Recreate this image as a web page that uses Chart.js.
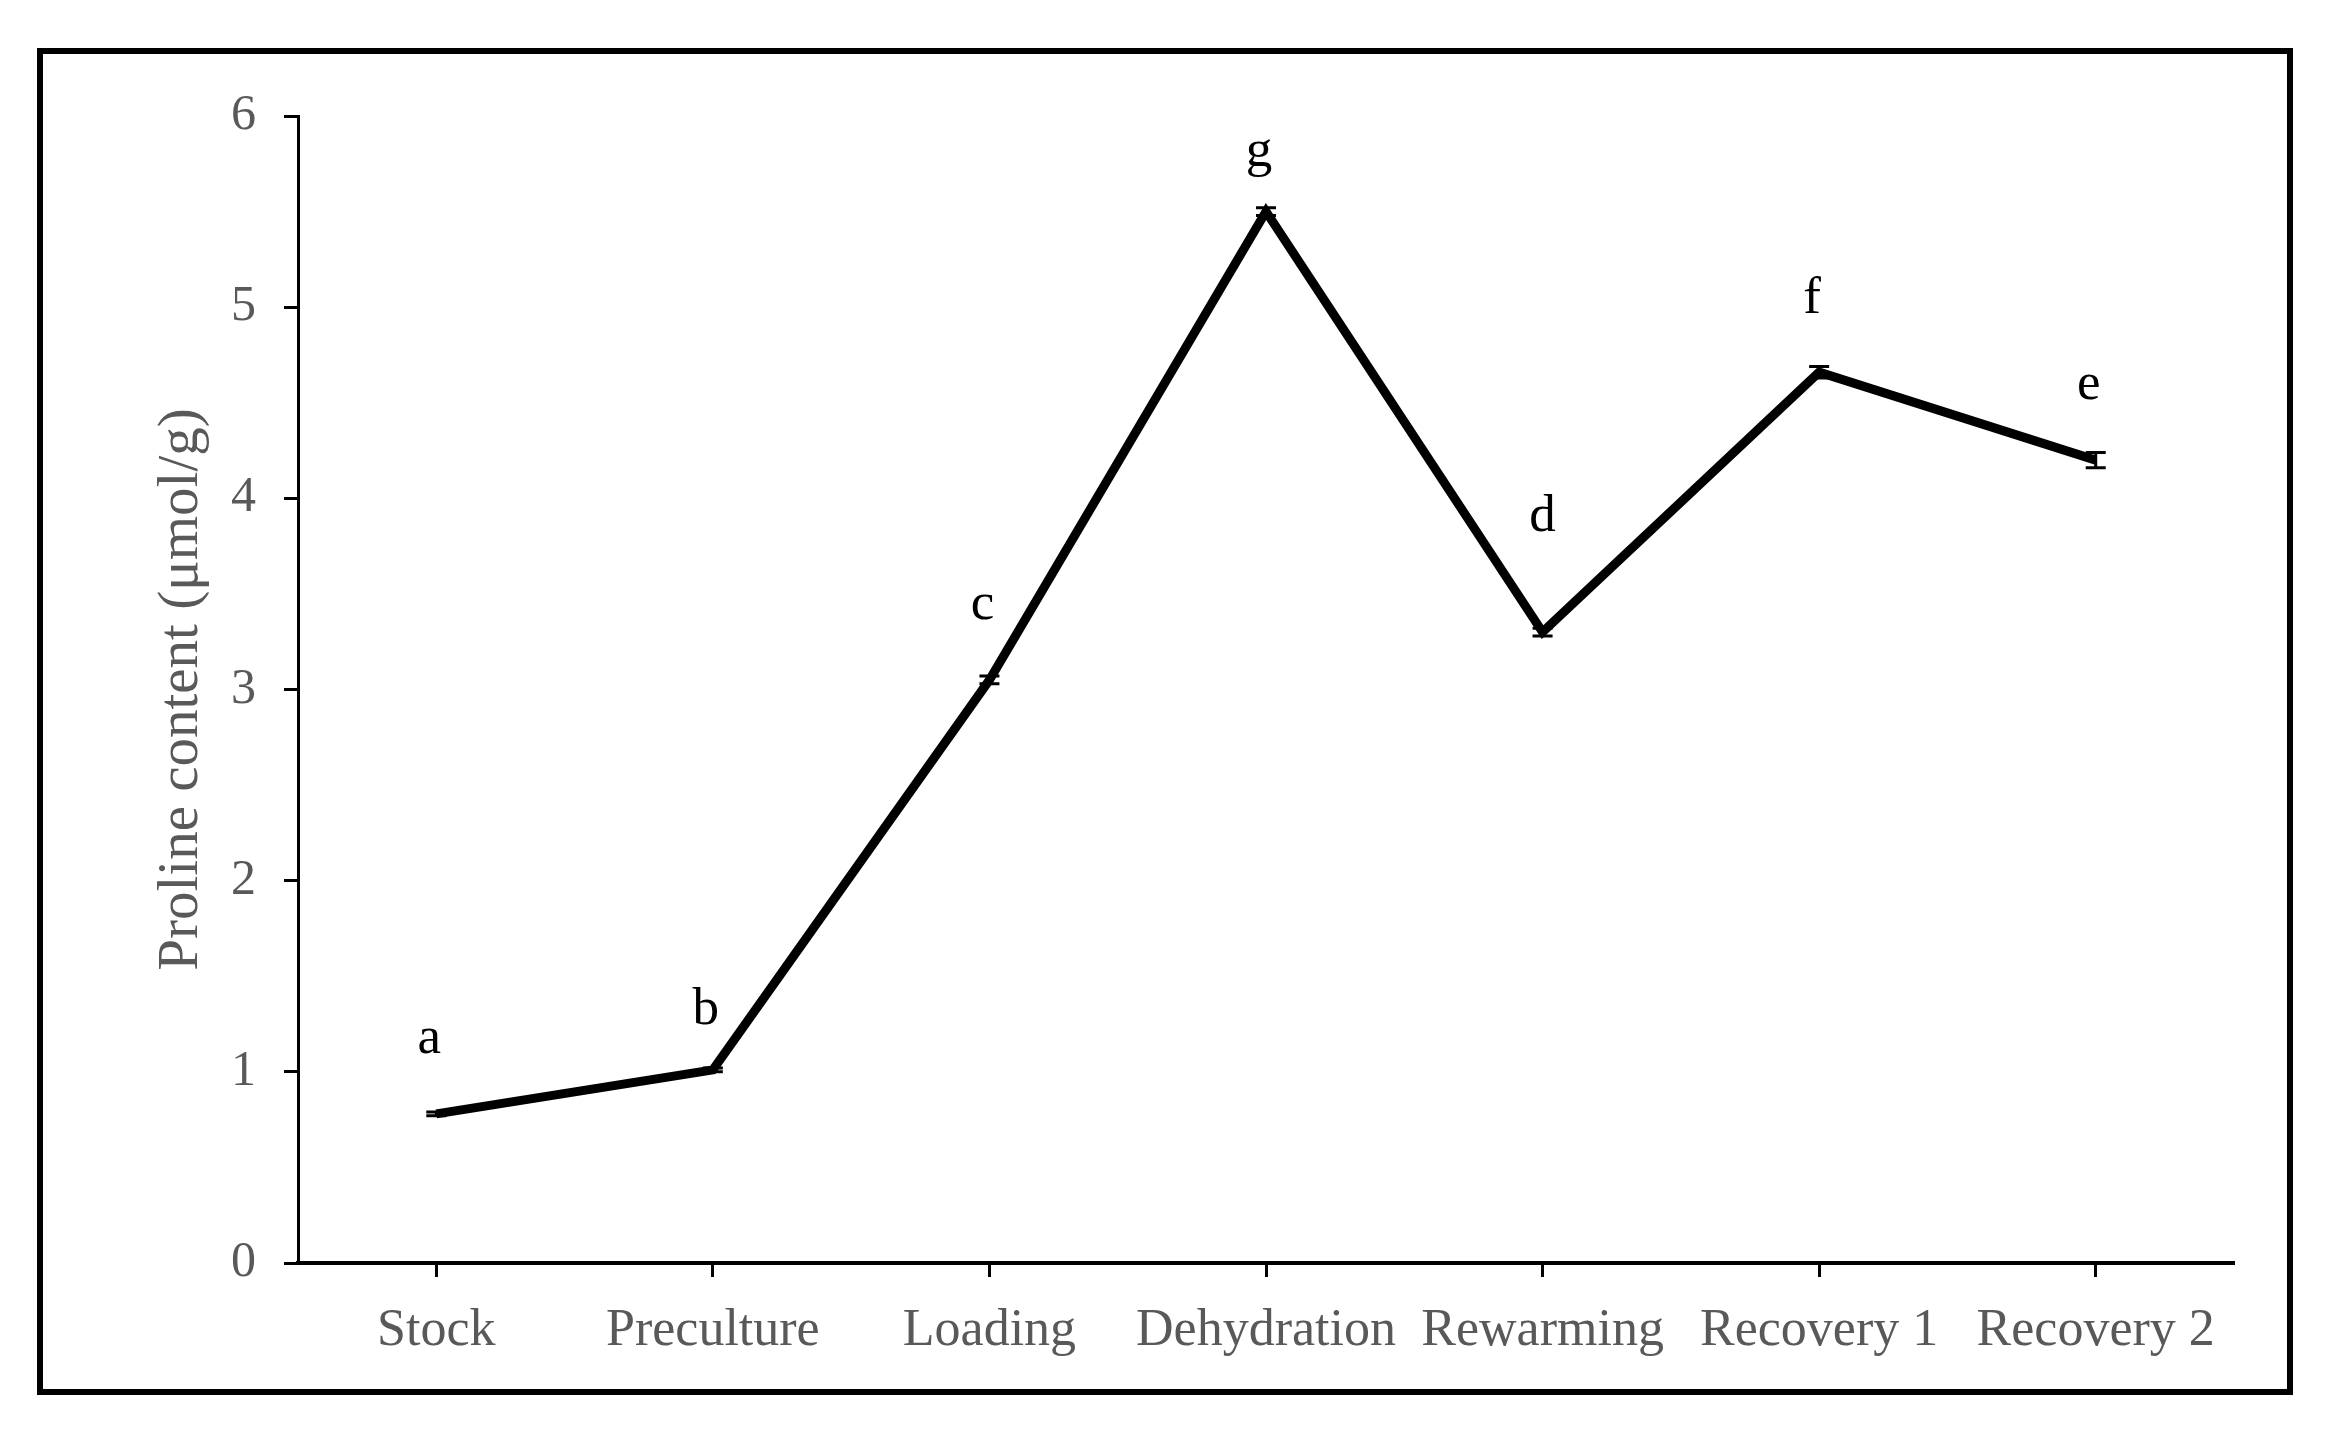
<!DOCTYPE html>
<html>
<head>
<meta charset="utf-8">
<title>Proline content</title>
<script src="https://cdn.jsdelivr.net/npm/chart.js@4.4.1/dist/chart.umd.min.js"></script>
<style>
  html, body { margin: 0; padding: 0; background: #fff; }
  body { width: 2335px; height: 1436px; position: relative; overflow: hidden; }
  .frame {
    position: absolute; left: 37px; top: 48px;
    width: 2256px; height: 1347px;
    border: 6px solid #000; box-sizing: border-box;
  }
  .chart-box { position: absolute; left: 0; top: 0; width: 2335px; height: 1436px; }
</style>
</head>
<body>
<div class="frame"></div>
<div class="chart-box"><canvas id="prolineChart" width="2335" height="1436"></canvas></div>
<script>
// ==========================================
// DATA
// ==========================================
const stages = ["Stock", "Preculture", "Loading", "Dehydration", "Rewarming", "Recovery 1", "Recovery 2"];
const prolineMean = [0.78, 1.01, 3.05, 5.50, 3.30, 4.66, 4.20];
const prolineErr = [0.01, 0.01, 0.02, 0.02, 0.02, 0.03, 0.04];
const groupLetters = ["a", "b", "c", "g", "d", "f", "e"];
const letterLevels = [1.10, 1.25, 3.37, 5.74, 3.83, 4.97, 4.52];
const yTicks = [0, 1, 2, 3, 4, 5, 6];

const FONT = "'Liberation Serif', 'Times New Roman', serif";
const GREY = "#595959";

// Error bars with caps, drawn through the y scale
const errorBars = {
  id: "errorBars",
  afterDatasetsDraw(chart) {
    const { ctx, scales: { x, y } } = chart;
    ctx.save();
    ctx.strokeStyle = "#000";
    ctx.lineWidth = 3;
    prolineMean.forEach((m, i) => {
      const px = x.getPixelForValue(i);
      const top = y.getPixelForValue(m + prolineErr[i]);
      const bot = y.getPixelForValue(m - prolineErr[i]);
      ctx.beginPath();
      ctx.moveTo(px, top); ctx.lineTo(px, bot);
      ctx.moveTo(px - 10, top); ctx.lineTo(px + 10, top);
      ctx.moveTo(px - 10, bot); ctx.lineTo(px + 10, bot);
      ctx.stroke();
    });
    ctx.restore();
  }
};

// Significance letters above each point
const letterLabels = {
  id: "letterLabels",
  afterDraw(chart) {
    const { ctx, scales: { x, y } } = chart;
    ctx.save();
    ctx.fillStyle = "#000";
    ctx.font = "53px " + FONT;
    ctx.textAlign = "center";
    ctx.textBaseline = "alphabetic";
    groupLetters.forEach((t, i) => {
      const nudge = t === "d" ? 0 : -7;
      ctx.fillText(t, x.getPixelForValue(i) + nudge, y.getPixelForValue(letterLevels[i]));
    });
    ctx.restore();
  }
};

new Chart(document.getElementById("prolineChart"), {
  type: "line",
  data: {
    labels: stages,
    datasets: [{
      data: prolineMean,
      borderColor: "#000",
      borderWidth: 9,
      borderJoinStyle: "miter",
      tension: 0,
      pointRadius: 0,
      clip: false
    }]
  },
  options: {
    responsive: false,
    animation: false,
    layout: { padding: { top: 116, right: 101, left: 0, bottom: 0 } },
    plugins: {
      legend: { display: false },
      tooltip: { enabled: false }
    },
    scales: {
      x: {
        offset: true,
        afterFit: (s) => { s.height = 173; },
        border: { display: true, color: "#000", width: 4 },
        grid: { drawOnChartArea: false, drawTicks: true, tickLength: 14, tickColor: "#000", tickWidth: 3 },
        ticks: { color: GREY, font: { family: FONT, size: 52 }, padding: 23, maxRotation: 0, autoSkip: false }
      },
      y: {
        min: 0,
        max: 6,
        afterFit: (s) => { s.width = 298; },
        afterBuildTicks: (s) => { s.ticks = yTicks.map(v => ({ value: v })); },
        border: { display: true, color: "#000", width: 3 },
        grid: { drawOnChartArea: false, drawTicks: true, tickLength: 14, tickColor: "#000", tickWidth: 3 },
        ticks: { color: GREY, font: { family: FONT, size: 50 }, padding: 28 },
        title: {
          display: true,
          text: "Proline content (μmol/g)",
          color: GREY,
          font: { family: FONT, size: 57 },
          padding: { top: 148, bottom: 0 }
        }
      }
    }
  },
  plugins: [errorBars, letterLabels]
});
</script>
</body>
</html>
